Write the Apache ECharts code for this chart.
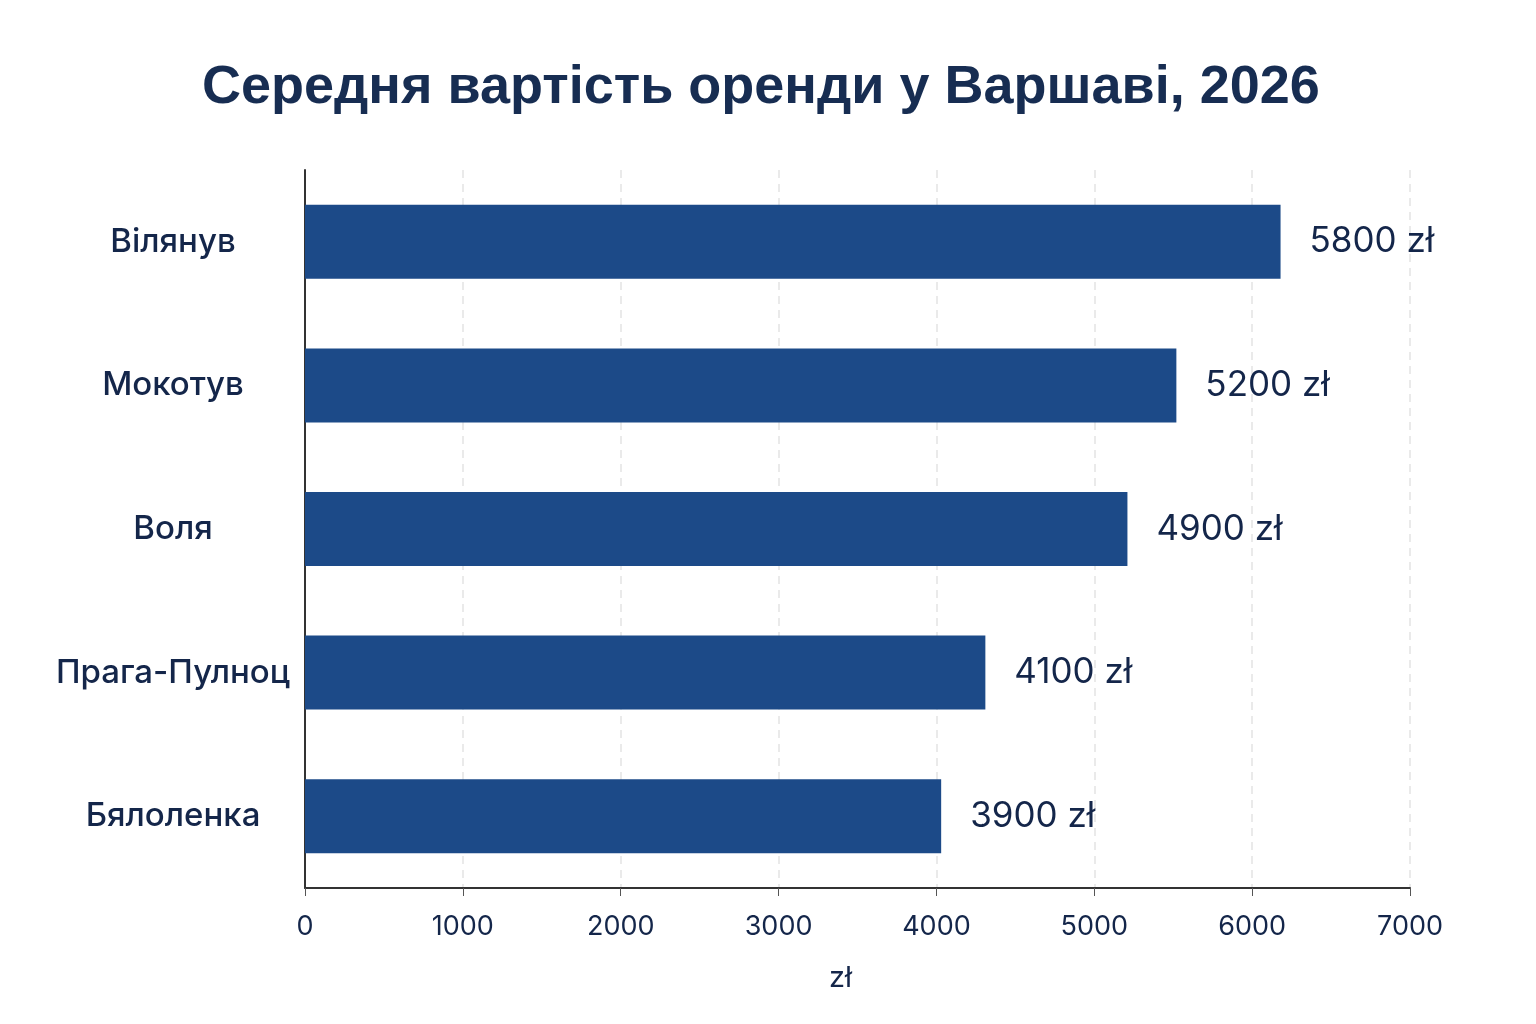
<!DOCTYPE html>
<html>
<head>
<meta charset="utf-8">
<script src="https://cdn.jsdelivr.net/npm/echarts@6/dist/echarts.min.js"></script>
<style>
  html, body { margin: 0; padding: 0; background: #fff; }
  #chart { width: 1536px; height: 1024px; }
</style>
</head>
<body>
<div id="chart"></div>
<script>
// райони (зверху вниз)
var districts = ['Вілянув', 'Мокотув', 'Воля', 'Прага-Пулноц', 'Бялоленка'];
// довжина смуг, як на малюнку
var barValues = [6180, 5520, 5210, 4310, 4030];
// підписи біля смуг
var valueLabels = ['5800 zł', '5200 zł', '4900 zł', '4100 zł', '3900 zł'];
var xTicks = [0, 1000, 2000, 3000, 4000, 5000, 6000, 7000];

var navy = '#14264a';
var myChart = echarts.init(document.getElementById('chart'));

var option = {
    backgroundColor: '#ffffff',
    animation: false,
    title: {
        text: 'Середня вартість оренди у Варшаві, 2026',
        left: 197,
        top: 56,
        textStyle: {
            fontFamily: 'Liberation Sans',
            fontSize: 54,
            fontWeight: 'bold',
            color: '#172d52'
        }
    },
    grid: {
        left: 305,
        right: 126,
        top: 170,
        bottom: 136
    },
    xAxis: {
        type: 'value',
        min: xTicks[0],
        max: xTicks[xTicks.length - 1],
        interval: 1000,
        name: 'zł',
        nameLocation: 'middle',
        nameGap: 76,
        nameTextStyle: { fontFamily: 'Inter', fontSize: 29, color: navy, padding: [0, 34, 0, 0] },
        axisLine: { show: true, lineStyle: { color: '#333', width: 2 } },
        axisTick: { show: true, length: 8, lineStyle: { color: '#555' } },
        axisLabel: {
            fontFamily: 'Inter', fontSize: 27, color: navy, margin: 25,
            formatter: function (v) { return String(v); }
        },
        splitLine: { show: true, lineStyle: { color: '#e4e4e4', type: [8, 6], width: 1.5 } }
    },
    yAxis: {
        type: 'category',
        inverse: true,
        data: districts,
        axisLine: { show: true, lineStyle: { color: '#333', width: 2 } },
        axisTick: { show: false },
        axisLabel: {
            fontFamily: 'Inter',
            fontSize: 33,
            fontWeight: 500,
            color: navy,
            align: 'center',
            margin: 132
        }
    },
    series: [{
        type: 'bar',
        data: barValues,
        barWidth: 74,
        itemStyle: { color: '#1c4a88' },
        label: {
            show: true,
            position: 'right',
            distance: 29,
            fontFamily: 'Inter',
            fontSize: 35,
            color: navy,
            formatter: function (p) { return valueLabels[p.dataIndex]; }
        }
    }]
};
myChart.setOption(option);
</script>
</body>
</html>
